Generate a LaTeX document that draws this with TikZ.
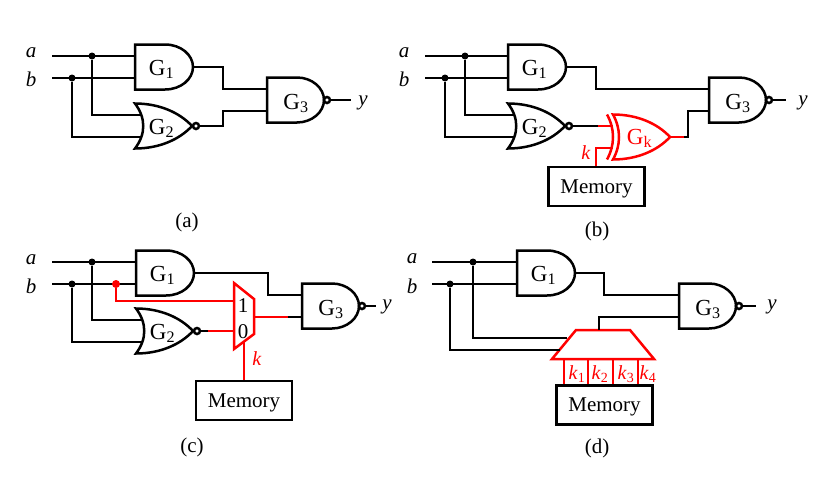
\documentclass[tikz,border=0pt]{standalone}
\usepackage{fontspec}
\setmainfont{Liberation Serif}
\usetikzlibrary{positioning}
\tikzset{
    wire/.style={line width=2.5pt, line cap=butt, line join=miter},
    keywire/.style={wire, red},
    dot/.style={circle, fill=black, inner sep=0pt, minimum size=7pt},
    memory/.style={draw, wire, minimum width=96pt, minimum height=39pt, inner sep=0pt,
        text height=16pt, text depth=3pt},
    lab/.style={inner sep=0pt, yshift=-1.5pt},
    keylab/.style={inner sep=0pt, text=red, font=\fontsize{20}{22}\selectfont},
    gatename/.style={inner sep=0pt, text height=16pt, text depth=0pt, font=\fontsize{23}{26}\selectfont},
    pics/andgate/.style={code={
        \draw[wire] (0, -22.5) -- (30, -22.5) .. controls (46, -22.5) and (58, -12) .. (58, 0)
            .. controls (58, 12) and (46, 22.5) .. (30, 22.5) -- (0, 22.5) -- cycle;
        \node[gatename] (-name) at (26.5, 0) {#1};
        \coordinate (-in1) at (0, -11);
        \coordinate (-in2) at (0, 11);
        \coordinate (-out) at (58, 0);
    }},
    pics/nandgate/.style={code={
        \draw[wire] (0, -22.5) -- (30, -22.5) .. controls (45, -22.5) and (57, -12) .. (57, 0)
            .. controls (57, 12) and (45, 22.5) .. (30, 22.5) -- (0, 22.5) -- cycle;
        \draw[wire, fill=white] (60, 0) circle (3);
        \node[gatename] (-name) at (29, 1) {#1};
        \coordinate (-in1) at (0, -11);
        \coordinate (-in2) at (0, 11);
        \coordinate (-out) at (63, 0);
    }},
    pics/norgate/.style={code={
        \draw[wire] (0, -22.5) .. controls (25, -22.5) and (45, -13) .. (57, 0)
            .. controls (45, 13) and (25, 22.5) .. (0, 22.5)
            .. controls (11, 8) and (11, -8) .. cycle;
        \draw[wire, fill=white] (61, 0) circle (3);
        \node[gatename] (-name) at (26.5, 0) {#1};
        \coordinate (-in1) at (6, -11);
        \coordinate (-in2) at (6, 11);
        \coordinate (-out) at (64, 0);
    }},
    pics/xorgate/.style={code={
        \draw[keywire] (0, -22.5) .. controls (25, -22.5) and (45, -13) .. (57, 0)
            .. controls (45, 13) and (25, 22.5) .. (0, 22.5)
            .. controls (8, 8) and (8, -8) .. cycle;
        \draw[keywire] (-6, -22.5) .. controls (2, -8) and (2, 8) .. (-6, 22.5);
        \node[gatename, text=red] (-name) at (26.5, -1) {#1};
        \coordinate (-in1) at (0, -11);
        \coordinate (-in2) at (0, 11);
        \coordinate (-out) at (57, 0);
    }}
}
\begin{document}
\begin{tikzpicture}[x=1pt, y=-1pt, font=\fontsize{21}{24}\selectfont]
    \useasboundingbox (0, 0) rectangle (830, 482);

    % panel a
    \node[lab] (lapa) at (31, 51) {\textit{a}};
    \node[lab] (lbpa) at (31, 78) {\textit{b}};
    \coordinate (sapa) at (52, 56);
    \coordinate (sbpa) at (52, 78);
    \coordinate (bendpa) at (223, 100);
    \pic (g1pa) at (135, 67) {andgate={G\textsubscript{1}}};
    \pic (g2pa) at (135, 126) {norgate={G\textsubscript{2}}};
    \pic (g3pa) at (267, 100) {nandgate={G\textsubscript{3}}};
    \node[dot] (japa) at (92, 56) {};
    \node[dot] (jbpa) at (72, 78) {};
    \node[lab] (ypa) at (363, 101) {\textit{y}};
    \coordinate (eypa) at (351, 100);
    \draw[wire] (sapa) -- (g1pa-in1);
    \draw[wire] (sbpa) -- (g1pa-in2);
    \draw[wire] (japa) |- (g2pa-in1);
    \draw[wire] (jbpa) |- (g2pa-in2);
    \draw[wire] (g1pa-out) -- (g1pa-out -| bendpa) |- (g3pa-in1);
    \draw[wire] (g2pa-out) -- (g2pa-out -| bendpa) |- (g3pa-in2);
    \draw[wire] (g3pa-out) -- (eypa);
    \node[lab] (capa) at (187, 221) {(a)};

    % panel b
    \node[lab] (lapb) at (404, 51) {\textit{a}};
    \node[lab] (lbpb) at (404, 78) {\textit{b}};
    \coordinate (sapb) at (425, 56);
    \coordinate (sbpb) at (425, 78);
    \coordinate (bendpb) at (596, 100);
    \pic (g1pb) at (508, 67) {andgate={G\textsubscript{1}}};
    \pic (g2pb) at (508, 126) {norgate={G\textsubscript{2}}};
    \pic (g3pb) at (709, 100) {nandgate={G\textsubscript{3}}};
    \pic (gkpb) at (613, 137) {xorgate={G\textsubscript{k}}};
    \node[dot] (japb) at (465, 56) {};
    \node[dot] (jbpb) at (445, 78) {};
    \node[lab] (ypb) at (803, 101) {\textit{y}};
    \coordinate (eypb) at (786, 100);
    \node[memory] (mempb) at (596.5, 186.5) {Memory};
    \node[keylab] (kpb) at (586, 153) {\textit{k}};
    \coordinate (outpb) at (684, 137);
    \coordinate (midpb) at (598, 126);
    \coordinate (bend2pb) at (688, 111);
    \draw[wire] (sapb) -- (g1pb-in1);
    \draw[wire] (sbpb) -- (g1pb-in2);
    \draw[wire] (japb) |- (g2pb-in1);
    \draw[wire] (jbpb) |- (g2pb-in2);
    \draw[wire] (g1pb-out) -- (g1pb-out -| bendpb) |- (g3pb-in1);
    \draw[wire] (g2pb-out) -- (midpb);
    \draw[keywire] (midpb) -- (gkpb-in1);
    \draw[keywire] (gkpb-out) -- (outpb);
    \draw[keywire] (mempb.north -| bendpb) |- (gkpb-in2);
    \draw[wire] (outpb) -| (bend2pb) -- (g3pb-in2);
    \draw[wire] (g3pb-out) -- (eypb);
    \node[lab] (capb) at (597, 230) {(b)};

    % panel c
    \node[lab] (lapc) at (31, 258) {\textit{a}};
    \node[lab] (lbpc) at (31, 285) {\textit{b}};
    \coordinate (sapc) at (52, 262);
    \coordinate (sbpc) at (52, 284);
    \coordinate (bendpc) at (268, 306);
    \pic (g1pc) at (136, 273) {andgate={G\textsubscript{1}}};
    \pic (g2pc) at (136, 331) {norgate={G\textsubscript{2}}};
    \pic (g3pc) at (302, 306) {nandgate={G\textsubscript{3}}};
    \draw[wire] (sapc) -- (g1pc-in1);
    \draw[wire] (sbpc) -- (g1pc-in2);
    \node[dot] (japc) at (92, 262) {};
    \node[dot] (jbpc) at (72, 284) {};
    \node[dot, fill=red, minimum size=8pt] (jrpc) at (116, 284) {};
    \coordinate (mtpc) at (234, 301);
    \coordinate (mbpc) at (234, 331);
    \coordinate (mopc) at (254, 317);
    \coordinate (mspc) at (244, 342);
    \coordinate (midpc) at (288, 317);
    \coordinate (bluepc) at (208, 331);
    \draw[keywire] (234, 283) -- (254, 299) -- (254, 334) -- (234, 349) -- cycle;
    \node[lab] (onepc) at (243, 304) {1};
    \node[lab] (zeropc) at (243, 330) {0};
    \node[lab] (ypc) at (387, 305) {\textit{y}};
    \coordinate (eypc) at (376, 306);
    \node[memory] (mempc) at (244, 400.5) {Memory};
    \node[keylab] (kpc) at (257, 359) {\textit{k}};
    \draw[wire] (japc) |- (g2pc-in1);
    \draw[wire] (jbpc) |- (g2pc-in2);
    \draw[keywire] (jrpc) |- (mtpc);
    \draw[wire] (g1pc-out) -- (g1pc-out -| bendpc) |- (g3pc-in1);
    \draw[wire] (g2pc-out) -- (bluepc);
    \draw[keywire] (bluepc) -- (mbpc);
    \draw[keywire] (mopc) -- (midpc);
    \draw[wire] (midpc) -- (g3pc-in2);
    \draw[keywire] (mempc.north) -- (mspc);
    \draw[wire] (g3pc-out) -- (eypc);
    \node[lab] (capc) at (192, 446) {(c)};

    % panel d
    \node[lab] (lapd) at (412, 257) {\textit{a}};
    \node[lab] (lbpd) at (412, 285) {\textit{b}};
    \coordinate (sapd) at (432, 262);
    \coordinate (sbpd) at (432, 284);
    \coordinate (bendpd) at (604, 306);
    \pic (g1pd) at (517, 273) {andgate={G\textsubscript{1}}};
    \pic (g3pd) at (679, 306) {nandgate={G\textsubscript{3}}};
    \node[dot] (japd) at (473, 262) {};
    \node[dot] (jbpd) at (450, 284) {};
    \coordinate (t1pd) at (567, 338);
    \coordinate (t2pd) at (560, 350);
    \coordinate (topd) at (599, 330);
    \draw[keywire] (576, 330) -- (630, 330) -- (654, 359) -- (552, 359) -- cycle;
    \node[lab] (ypd) at (772, 305) {\textit{y}};
    \coordinate (eypd) at (756, 306);
    \node[memory] (mempd) at (604.5, 405) {Memory};
    \draw[wire] (sapd) -- (g1pd-in1);
    \draw[wire] (sbpd) -- (g1pd-in2);
    \draw[wire] (japd) |- (t1pd);
    \draw[wire] (jbpd) |- (t2pd);
    \draw[wire] (g1pd-out) -- (g1pd-out -| bendpd) |- (g3pd-in1);
    \draw[wire] (topd) |- (g3pd-in2);
    \draw[wire] (g3pd-out) -- (eypd);
    \foreach \x/\i/\lx in {564/1/577, 588/2/600, 613/3/626, 638/4/648}{
        \coordinate (kt\i pd) at (\x, 359);
        \draw[keywire] (kt\i pd) -- (kt\i pd |- mempd.north);
        \node[keylab] (k\i pd) at (\lx, 374) {\textit{k}\textsubscript{\i}};
    }
    \node[lab] (capd) at (597, 447) {(d)};
\end{tikzpicture}
\end{document}
